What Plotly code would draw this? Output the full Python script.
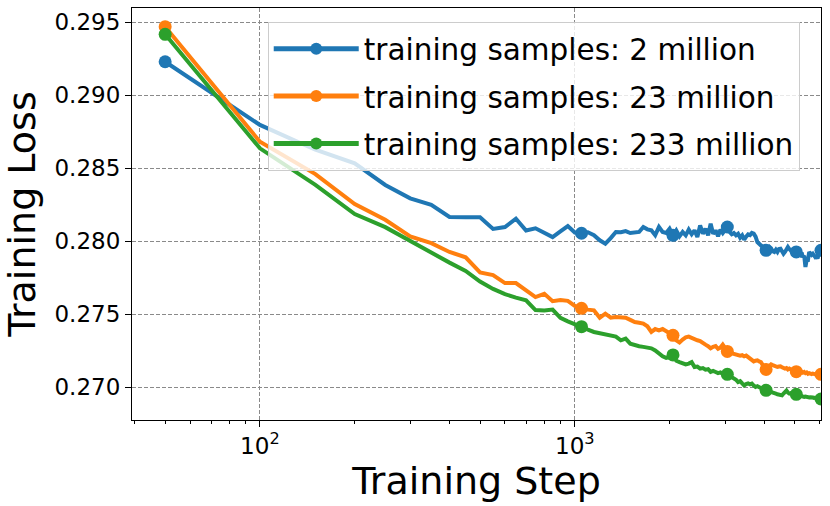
import plotly.graph_objects as go

steps = [50, 100, 150, 200, 250, 300, 350, 400, 450, 500,
         550, 600, 650, 700, 750, 800, 850, 900, 950, 1000,
         1050, 1100, 1150, 1200, 1250, 1300, 1350, 1400, 1450, 1500,
         1550, 1600, 1650, 1700, 1750, 1800, 1850, 1900, 1950, 2000,
         2050, 2100, 2150, 2200, 2250, 2300, 2350, 2400, 2450, 2500,
         2550, 2600, 2650, 2700, 2750, 2800, 2850, 2900, 2950, 3000,
         3050, 3100, 3150, 3200, 3250, 3300, 3350, 3400, 3450, 3500,
         3550, 3600, 3650, 3700, 3750, 3800, 3850, 3900, 3950, 4000,
         4050, 4100, 4150, 4200, 4250, 4300, 4350, 4400, 4450, 4500,
         4550, 4600, 4650, 4700, 4750, 4800, 4850, 4900, 4950, 5000,
         5050, 5100, 5150, 5200, 5250, 5300, 5350, 5400, 5450, 5500,
         5550, 5600, 5650, 5700, 5750, 5800, 5850, 5900, 5950, 6000,
         6050]

loss_2m = [0.29228, 0.28795, 0.28625, 0.28532, 0.28384, 0.28292, 0.28247, 0.28165, 0.28162, 0.28162,
           0.28083, 0.28096, 0.28153, 0.28072, 0.28087, 0.28055, 0.28027, 0.28066, 0.28102, 0.28058,
           0.28053, 0.28060, 0.28040, 0.28005, 0.27982, 0.28020, 0.28062, 0.28060, 0.28068, 0.28055,
           0.28058, 0.28062, 0.28096, 0.28080, 0.28073, 0.28040, 0.28096, 0.28062, 0.28055, 0.28084,
           0.28039, 0.28073, 0.28032, 0.28062, 0.28039, 0.28078, 0.28046, 0.28073, 0.28027, 0.28107,
           0.28050, 0.28084, 0.28039, 0.28119, 0.28050, 0.28073, 0.28032, 0.28078, 0.28055, 0.28073,
           0.28096, 0.28062, 0.28046, 0.28055, 0.28039, 0.28050, 0.28023, 0.28039, 0.28009, 0.28030,
           0.28045, 0.28040, 0.28055, 0.28050, 0.28030, 0.27993, 0.27985, 0.27970, 0.27960, 0.27950,
           0.27936, 0.27945, 0.27960, 0.27950, 0.27930, 0.27925, 0.27940, 0.27925, 0.27945, 0.27947,
           0.27930, 0.27913, 0.27925, 0.27940, 0.27959, 0.27945, 0.27935, 0.27925, 0.27930, 0.27920,
           0.27925, 0.27935, 0.27913, 0.27905, 0.27920, 0.27890, 0.27900, 0.27822, 0.27870, 0.27870,
           0.27925, 0.27915, 0.27905, 0.27913, 0.27900, 0.27890, 0.27895, 0.27880, 0.27910, 0.27930,
           0.27936]

loss_23m = [0.29468, 0.28680, 0.28458, 0.28253, 0.28145, 0.28032, 0.27985, 0.27925, 0.27888, 0.27785,
            0.27767, 0.27712, 0.27712, 0.27660, 0.27616, 0.27638, 0.27588, 0.27596, 0.27590, 0.27555,
            0.27539, 0.27530, 0.27525, 0.27475, 0.27502, 0.27475, 0.27480, 0.27479, 0.27475, 0.27460,
            0.27445, 0.27440, 0.27434, 0.27416, 0.27377, 0.27397, 0.27388, 0.27397, 0.27380, 0.27370,
            0.27354, 0.27320, 0.27305, 0.27325, 0.27340, 0.27345, 0.27335, 0.27330, 0.27320, 0.27315,
            0.27300, 0.27290, 0.27280, 0.27265, 0.27275, 0.27280, 0.27262, 0.27270, 0.27290, 0.27265,
            0.27244, 0.27235, 0.27230, 0.27228, 0.27220, 0.27217, 0.27215, 0.27218, 0.27210, 0.27215,
            0.27205, 0.27190, 0.27183, 0.27175, 0.27180, 0.27183, 0.27175, 0.27171, 0.27150, 0.27130,
            0.27120, 0.27135, 0.27150, 0.27155, 0.27150, 0.27145, 0.27140, 0.27137, 0.27140, 0.27142,
            0.27135, 0.27130, 0.27126, 0.27130, 0.27120, 0.27126, 0.27118, 0.27114, 0.27110, 0.27108,
            0.27105, 0.27108, 0.27103, 0.27100, 0.27105, 0.27098, 0.27103, 0.27095, 0.27100, 0.27091,
            0.27095, 0.27090, 0.27088, 0.27092, 0.27087, 0.27090, 0.27085, 0.27088, 0.27083, 0.27086,
            0.27087]

loss_233m = [0.29416, 0.28635, 0.28385, 0.28185, 0.28095, 0.28000, 0.27915, 0.27852, 0.27795, 0.27722,
             0.27672, 0.27636, 0.27612, 0.27594, 0.27527, 0.27524, 0.27530, 0.27474, 0.27450, 0.27428,
             0.27413, 0.27393, 0.27377, 0.27370, 0.27360, 0.27354, 0.27345, 0.27320, 0.27331, 0.27297,
             0.27285, 0.27279, 0.27275, 0.27269, 0.27265, 0.27251, 0.27228, 0.27210, 0.27200, 0.27205,
             0.27220, 0.27180, 0.27171, 0.27165, 0.27155, 0.27160, 0.27170, 0.27137, 0.27140, 0.27126,
             0.27130, 0.27119, 0.27122, 0.27103, 0.27110, 0.27103, 0.27095, 0.27100, 0.27091, 0.27095,
             0.27087, 0.27075, 0.27064, 0.27060, 0.27050, 0.27034, 0.27040, 0.27025, 0.27011, 0.27020,
             0.27025, 0.27018, 0.27023, 0.27010, 0.27000, 0.27005, 0.26998, 0.26989, 0.26985, 0.26980,
             0.26977, 0.26972, 0.26966, 0.26968, 0.26960, 0.26958, 0.26954, 0.26950, 0.26948, 0.26945,
             0.26943, 0.26955, 0.26970, 0.26975, 0.26962, 0.26955, 0.26958, 0.26955, 0.26950, 0.26952,
             0.26950, 0.26945, 0.26943, 0.26940, 0.26938, 0.26935, 0.26932, 0.26935, 0.26930, 0.26932,
             0.26928, 0.26930, 0.26932, 0.26928, 0.26925, 0.26930, 0.26928, 0.26925, 0.26922, 0.26920,
             0.26918]

series_names = ["training samples: 2 million",
                "training samples: 23 million",
                "training samples: 233 million"]
series_colors = ["#1f77b4", "#ff7f0e", "#2ca02c"]
mark_every = 20

y_ticks = [0.270, 0.275, 0.280, 0.285, 0.290, 0.295]

FONT = "DejaVu Sans"

fig = go.Figure()
for name, color, vals in zip(series_names, series_colors, [loss_2m, loss_23m, loss_233m]):
    sizes = [13 if i % mark_every == 0 else 0 for i in range(len(vals))]
    fig.add_trace(go.Scatter(
        x=steps[:len(vals)], y=vals, name=name, legendgroup=name,
        mode="lines+markers",
        line=dict(color=color, width=4),
        marker=dict(color=color, size=sizes, opacity=1, line=dict(width=0)),
    ))

axis_common = dict(
    showline=True, mirror=True, linecolor="black", linewidth=1.2,
    showgrid=True, gridcolor="#8a8a8a", griddash="4px,2px", gridwidth=1,
    ticks="outside", ticklen=6, tickcolor="black", tickwidth=1.2,
    zeroline=False, automargin=False,
)

fig.update_layout(
    width=830, height=506,
    margin=dict(l=132, r=9, t=8, b=86),
    paper_bgcolor="white", plot_bgcolor="white",
    font=dict(family=FONT, color="black"),
    xaxis=dict(
        type="log", range=[1.5937, 3.7818], dtick=1, exponentformat="power",
        tickfont=dict(size=18.5, family=FONT),
        minor=dict(ticks="outside", ticklen=3, tickcolor="black", dtick="D1", showgrid=False),
        title=dict(text="Training Step", font=dict(size=38, family=FONT), standoff=0),
        **axis_common,
    ),
    yaxis=dict(
        range=[0.26774, 0.29596], tickvals=y_ticks, tickformat=".3f",
        tickfont=dict(size=23, family=FONT),
        title=dict(text="Training Loss", font=dict(size=38, family=FONT), standoff=8),
        **axis_common,
    ),
    legend=dict(
        x=0.197, y=0.966, xanchor="left", yanchor="top",
        bgcolor="rgba(255,255,255,0.8)", bordercolor="#cccccc", borderwidth=1,
        font=dict(size=29.5, family=FONT), itemsizing="constant", itemwidth=85,
        traceorder="grouped", tracegroupgap=6,
    ),
    showlegend=True,
)

fig.write_html("out.html", config={"displayModeBar": False},
               post_script="document.body.style.margin='0';document.body.style.padding='0';")
